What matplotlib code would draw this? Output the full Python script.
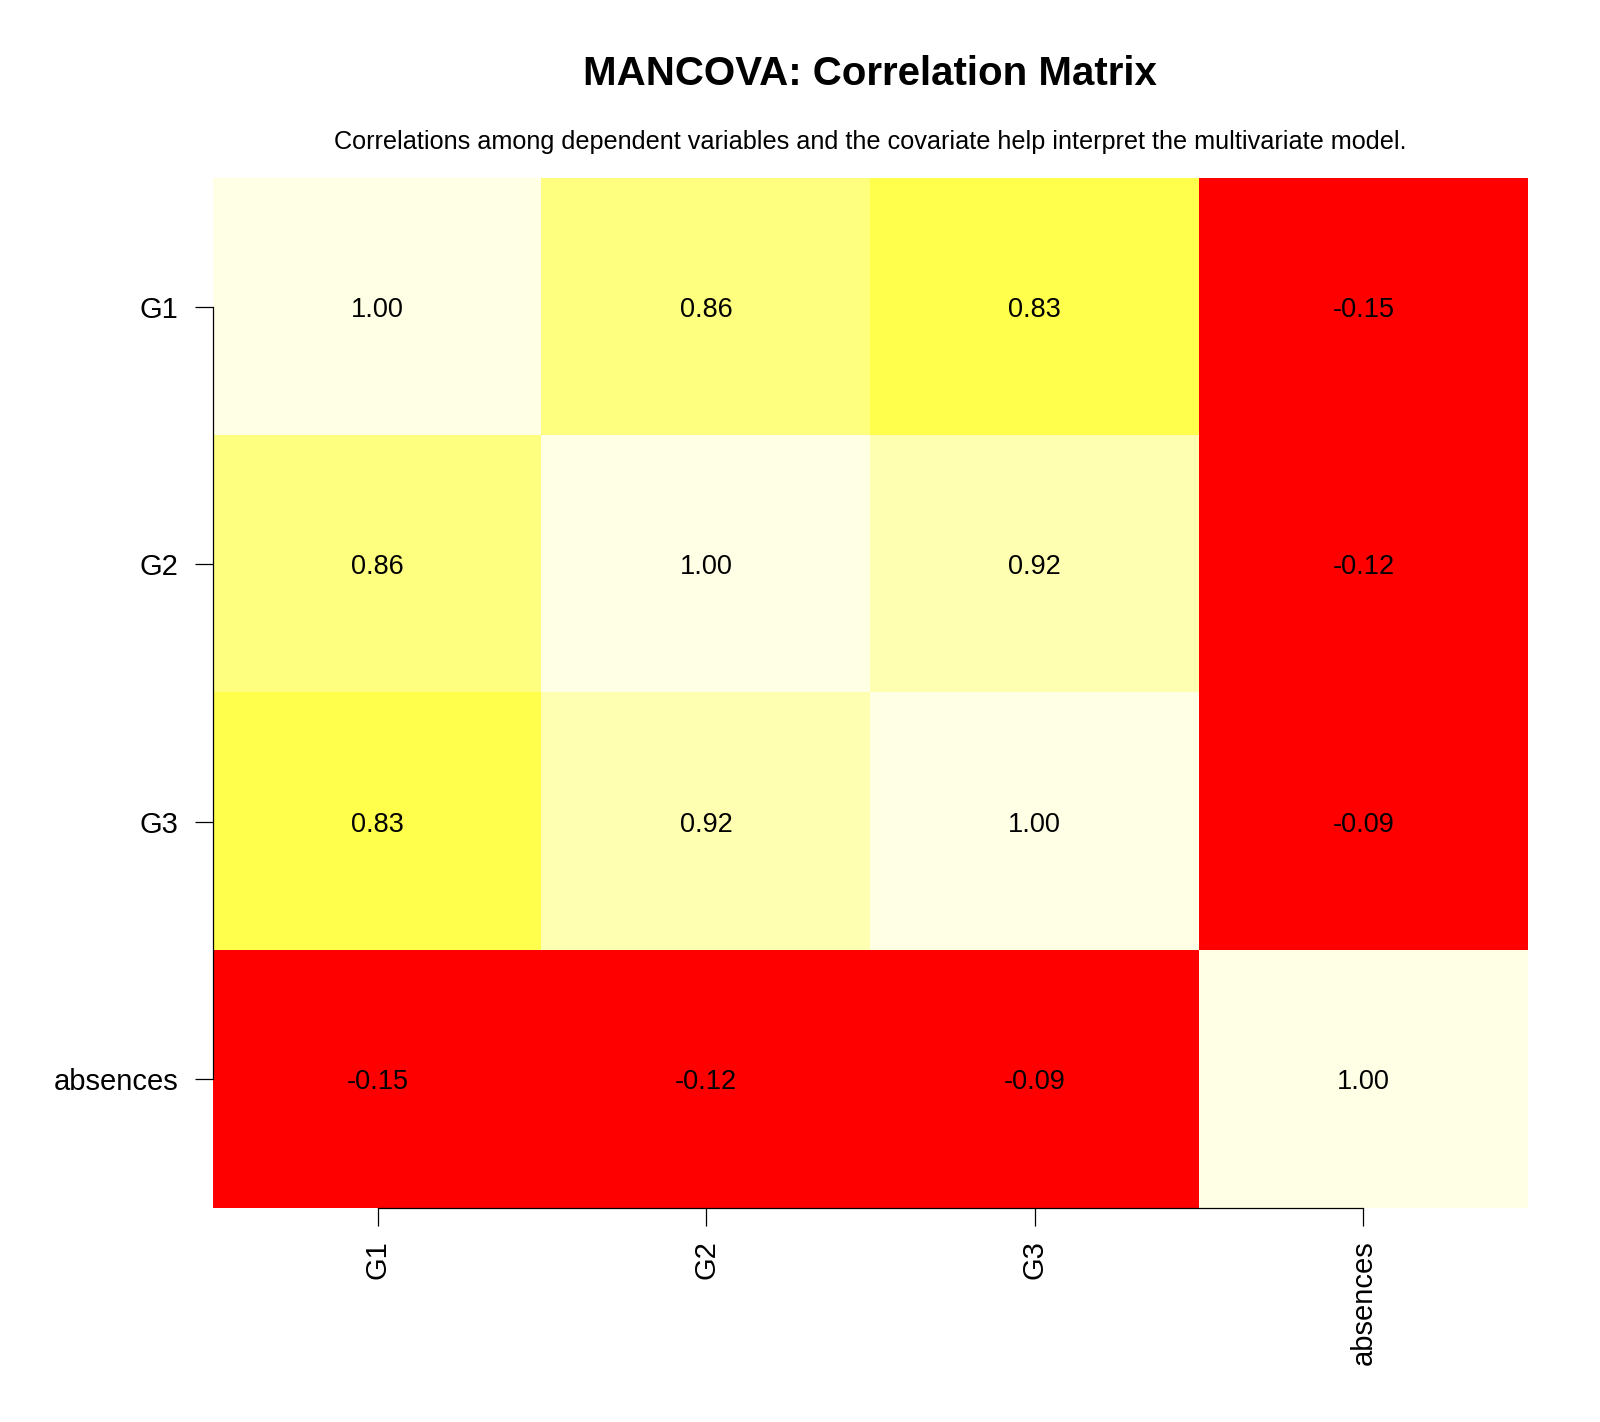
import colorsys
import numpy as np
import matplotlib
matplotlib.use("Agg")
import matplotlib.pyplot as plt
from matplotlib.colors import ListedColormap

# Datos de la matriz de correlación
variables = ["G1", "G2", "G3", "absences"]
fila_g1 = [1.00, 0.86, 0.83, -0.15]
fila_g2 = [0.86, 1.00, 0.92, -0.12]
fila_g3 = [0.83, 0.92, 1.00, -0.09]
fila_abs = [-0.15, -0.12, -0.09, 1.00]

titulo = "MANCOVA: Correlation Matrix"
subtitulo = ("Correlations among dependent variables and the covariate "
             "help interpret the multivariate model.")

# Rango de la escala de color (como zlim en R)
zlim = (-0.12, 1.00)


def heat_colors(n):
    # Equivalente a heat.colors(n) de R
    j = n // 4
    i = n - j
    cols = []
    for h in np.linspace(0, 1 / 6, i):
        cols.append(colorsys.hsv_to_rgb(h, 1, 1))
    for s in np.linspace(1 - 1 / (2 * j), 1 / (2 * j), j):
        cols.append(colorsys.hsv_to_rgb(1 / 6, s, 1))
    return cols


plt.rcParams["font.family"] = ["Liberation Sans", "DejaVu Sans"]

matriz = np.array([fila_g1, fila_g2, fila_g3, fila_abs])

fig = plt.figure(figsize=(16, 14.22), dpi=100)
ax = fig.add_axes([0.1333, 0.1505, 0.8215, 0.7243])

ax.imshow(matriz, cmap=ListedColormap(heat_colors(20)),
          vmin=zlim[0], vmax=zlim[1],
          aspect="auto", interpolation="nearest")

for r in range(len(variables)):
    for c in range(len(variables)):
        ax.text(c, r, f"{matriz[r, c]:.2f}", ha="center", va="center_baseline",
                fontsize=19.5, color="black")

ax.set_xticks(range(len(variables)))
ax.set_xticklabels(variables, rotation=90, fontsize=21)
ax.set_yticks(range(len(variables)))
ax.set_yticklabels(variables, fontsize=21)
ax.tick_params(axis="both", length=13, width=0.9, color="black")
ax.tick_params(axis="y", pad=12)
ax.tick_params(axis="x", pad=10)

for lado in ["top", "right"]:
    ax.spines[lado].set_visible(False)
ax.spines["left"].set_bounds(0, len(variables) - 1)
ax.spines["bottom"].set_bounds(0, len(variables) - 1)
for lado in ["left", "bottom"]:
    ax.spines[lado].set_linewidth(0.9)
    ax.spines[lado].set_color("black")

fig.text(0.5438, 1 - 74 / 1422, titulo, ha="center", va="center",
         fontsize=29, fontweight="bold")
fig.text(0.5438, 1 - 142 / 1422, subtitulo, ha="center", va="center",
         fontsize=18.2)

fig.savefig("out.png", dpi=100)
